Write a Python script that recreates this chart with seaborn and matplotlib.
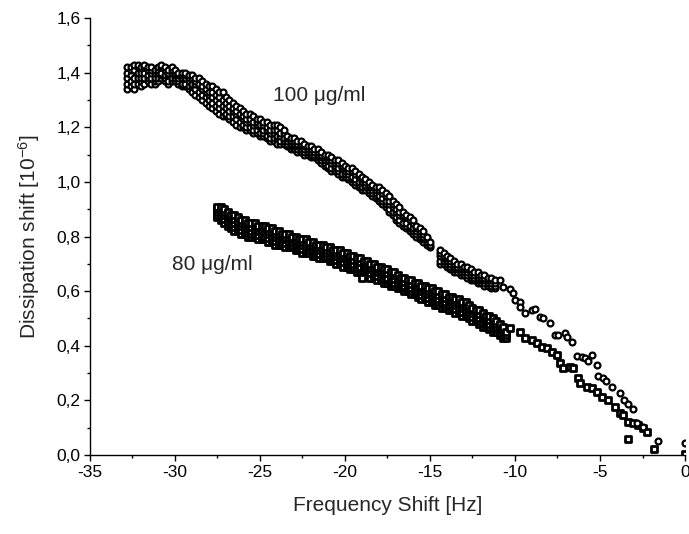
import matplotlib
matplotlib.use("Agg")
import matplotlib.pyplot as plt
import seaborn as sns
import pandas as pd
from matplotlib.ticker import MultipleLocator, FuncFormatter

# ---------------- data ----------------
# 100 ug/ml : rows of (frequency shift, [dissipation values seen at that frequency])
freq_100_rows = [
    -32.8, -32.6, -32.4, -32.2, -32.0, -31.8, -31.6, -31.4, -31.2, -31.0,
    -30.8, -30.6, -30.4, -30.2, -30.0, -29.8, -29.6, -29.4, -29.2, -29.0,
    -28.8, -28.6, -28.4, -28.2, -28.0, -27.8, -27.6, -27.4, -27.2, -27.0,
    -26.8, -26.6, -26.4, -26.2, -26.0, -25.8, -25.6, -25.4, -25.2, -25.0,
    -24.8, -24.6, -24.4, -24.2, -24.0, -23.8, -23.6, -23.4, -23.2, -23.0,
    -22.8, -22.6, -22.4, -22.2, -22.0, -21.8, -21.6, -21.4, -21.2, -21.0,
    -20.8, -20.6, -20.4, -20.2, -20.0, -19.8, -19.6, -19.4, -19.2, -19.0,
    -18.8, -18.6, -18.4, -18.2, -18.0, -17.8, -17.6, -17.4, -17.2, -17.0,
    -16.8, -16.6, -16.4, -16.2, -16.0, -15.8, -15.6, -15.4, -15.2, -15.0,
    -14.4, -14.2, -14.0, -13.8, -13.6, -13.4, -13.2, -13.0, -12.8, -12.6,
    -12.4, -12.2, -12.0, -11.8, -11.6, -11.4, -11.2,
]
diss_100_rows = [
    [1.34, 1.36, 1.38, 1.40, 1.42], [1.35, 1.37, 1.39, 1.41, 1.42], [1.34, 1.36, 1.38, 1.41, 1.43],
    [1.36, 1.38, 1.40, 1.42, 1.43], [1.35, 1.37, 1.38, 1.40, 1.42], [1.36, 1.38, 1.40, 1.42, 1.43],
    [1.37, 1.38, 1.39, 1.41, 1.42], [1.36, 1.38, 1.40, 1.41, 1.42], [1.36, 1.37, 1.38, 1.40, 1.41],
    [1.37, 1.38, 1.40, 1.41, 1.42], [1.38, 1.39, 1.40, 1.42, 1.43], [1.37, 1.38, 1.39, 1.41, 1.42],
    [1.36, 1.37, 1.39, 1.40, 1.41], [1.37, 1.38, 1.40, 1.41, 1.42], [1.37, 1.38, 1.39, 1.40, 1.41],
    [1.36, 1.37, 1.38, 1.39, 1.40], [1.35, 1.36, 1.38, 1.39, 1.40], [1.35, 1.36, 1.38, 1.39, 1.40],
    [1.34, 1.35, 1.37, 1.38, 1.39], [1.33, 1.35, 1.36, 1.38, 1.39], [1.32, 1.34, 1.36, 1.37, 1.38],
    [1.31, 1.33, 1.35, 1.36, 1.38], [1.30, 1.32, 1.34, 1.35, 1.37], [1.29, 1.31, 1.33, 1.34, 1.36],
    [1.28, 1.30, 1.32, 1.33, 1.35], [1.27, 1.29, 1.31, 1.33, 1.35], [1.26, 1.28, 1.30, 1.32, 1.34],
    [1.25, 1.27, 1.29, 1.31, 1.33], [1.24, 1.26, 1.28, 1.30, 1.33], [1.24, 1.25, 1.27, 1.29, 1.31],
    [1.23, 1.24, 1.26, 1.28, 1.30], [1.22, 1.24, 1.26, 1.27, 1.29], [1.21, 1.23, 1.25, 1.26, 1.28],
    [1.20, 1.22, 1.24, 1.25, 1.27], [1.20, 1.21, 1.23, 1.24, 1.26], [1.19, 1.20, 1.22, 1.23, 1.25],
    [1.19, 1.20, 1.22, 1.23, 1.25], [1.18, 1.19, 1.21, 1.22, 1.24], [1.18, 1.19, 1.21, 1.22, 1.23],
    [1.17, 1.18, 1.20, 1.21, 1.23], [1.17, 1.18, 1.19, 1.21, 1.22], [1.16, 1.17, 1.19, 1.20, 1.22],
    [1.15, 1.16, 1.18, 1.19, 1.21], [1.15, 1.16, 1.18, 1.19, 1.21], [1.14, 1.16, 1.17, 1.19, 1.21],
    [1.14, 1.15, 1.17, 1.18, 1.20], [1.14, 1.15, 1.16, 1.18, 1.19], [1.13, 1.14, 1.15, 1.16, 1.17],
    [1.12, 1.13, 1.14, 1.15, 1.16], [1.12, 1.13, 1.14, 1.15, 1.16], [1.11, 1.12, 1.13, 1.14, 1.15],
    [1.11, 1.12, 1.13, 1.14, 1.15], [1.10, 1.11, 1.12, 1.13, 1.14], [1.10, 1.11, 1.12, 1.13],
    [1.09, 1.10, 1.11, 1.12, 1.13], [1.09, 1.10, 1.11, 1.12], [1.08, 1.09, 1.10, 1.11, 1.12],
    [1.07, 1.08, 1.09, 1.10, 1.11], [1.06, 1.07, 1.08, 1.09, 1.10], [1.05, 1.06, 1.08, 1.09, 1.10],
    [1.04, 1.05, 1.07, 1.08, 1.09], [1.04, 1.05, 1.06, 1.07, 1.08], [1.03, 1.04, 1.05, 1.07, 1.08],
    [1.02, 1.03, 1.05, 1.06, 1.07], [1.02, 1.03, 1.04, 1.05, 1.06], [1.01, 1.02, 1.03, 1.04, 1.05],
    [1.00, 1.01, 1.02, 1.04, 1.05], [0.99, 1.00, 1.01, 1.03, 1.04], [0.98, 0.99, 1.00, 1.02, 1.03],
    [0.97, 0.98, 1.00, 1.01, 1.02], [0.97, 0.98, 0.99, 1.00, 1.01], [0.96, 0.97, 0.98, 0.99, 1.00],
    [0.95, 0.96, 0.97, 0.98, 0.99], [0.94, 0.95, 0.96, 0.97, 0.98], [0.93, 0.94, 0.95, 0.97, 0.98],
    [0.92, 0.93, 0.94, 0.96, 0.97], [0.91, 0.92, 0.93, 0.95, 0.96], [0.89, 0.90, 0.92, 0.93, 0.95],
    [0.88, 0.89, 0.91, 0.92, 0.93], [0.86, 0.87, 0.89, 0.90, 0.92], [0.85, 0.86, 0.88, 0.89, 0.91],
    [0.84, 0.85, 0.87, 0.88, 0.89], [0.83, 0.84, 0.85, 0.87, 0.88], [0.82, 0.83, 0.84, 0.86, 0.87],
    [0.81, 0.82, 0.83, 0.85, 0.86], [0.80, 0.81, 0.82, 0.83, 0.84], [0.79, 0.80, 0.81, 0.82, 0.83],
    [0.78, 0.79, 0.80, 0.81, 0.82], [0.77, 0.78, 0.79, 0.80], [0.76, 0.77, 0.78],
    [0.70, 0.71, 0.73, 0.74, 0.75], [0.70, 0.71, 0.72, 0.73, 0.74], [0.69, 0.70, 0.71, 0.72, 0.73],
    [0.68, 0.69, 0.70, 0.71, 0.72], [0.67, 0.68, 0.69, 0.70, 0.71], [0.67, 0.68, 0.69, 0.70],
    [0.66, 0.67, 0.68, 0.69, 0.70], [0.66, 0.67, 0.68, 0.69], [0.65, 0.66, 0.67, 0.68, 0.69],
    [0.64, 0.65, 0.66, 0.67, 0.68], [0.64, 0.65, 0.66, 0.67], [0.63, 0.64, 0.65, 0.66, 0.67],
    [0.63, 0.64, 0.65, 0.66], [0.62, 0.63, 0.64, 0.65, 0.66], [0.62, 0.63, 0.64, 0.65],
    [0.61, 0.62, 0.63, 0.64, 0.65], [0.61, 0.62, 0.63, 0.64],
]
# sparse tail of the 100 ug/ml series
freq_100_tail = [-10.88, -10.69, -10.29, -10.10, -10.00, -9.71, -9.71, -9.41, -9.02, -8.82,
                 -8.53, -8.34, -7.94, -7.65, -7.45, -7.06, -6.96, -6.66, -6.37, -6.08,
                 -5.88, -5.69, -5.49, -5.19, -5.10, -4.81, -4.65, -4.28, -3.82, -3.59,
                 -3.34, -3.04, -2.84, -2.45, -1.57, 0.0]
diss_100_tail = [0.641, 0.617, 0.607, 0.592, 0.568, 0.562, 0.543, 0.519, 0.531, 0.534,
                 0.507, 0.501, 0.482, 0.440, 0.440, 0.446, 0.433, 0.415, 0.363, 0.358,
                 0.354, 0.345, 0.366, 0.330, 0.290, 0.281, 0.272, 0.250, 0.228, 0.201,
                 0.186, 0.167, 0.116, 0.104, 0.051, 0.045]

# 80 ug/ml
freq_80_rows = [
    -27.5, -27.3, -27.1, -26.9, -26.7, -26.5, -26.3, -26.1, -25.9, -25.7,
    -25.5, -25.3, -25.1, -24.9, -24.7, -24.5, -24.3, -24.1, -23.9, -23.7,
    -23.5, -23.3, -23.1, -22.9, -22.7, -22.5, -22.3, -22.1, -21.9, -21.7,
    -21.5, -21.3, -21.1, -20.9, -20.7, -20.5, -20.3, -20.1, -19.9, -19.7,
    -19.5, -19.3, -19.1, -18.9, -18.7, -18.5, -18.3, -18.1, -17.9, -17.7,
    -17.5, -17.3, -17.1, -16.9, -16.7, -16.5, -16.3, -16.1, -15.9, -15.7,
    -15.5, -15.3, -15.1, -14.9, -14.7, -14.5, -14.3, -14.1, -13.9, -13.7,
    -13.5, -13.3, -13.1, -12.9, -12.7, -12.5, -12.3, -12.1, -11.9, -11.7,
    -11.5, -11.3, -11.1, -10.9, -10.7, -10.5,
]
diss_80_rows = [
    [0.87, 0.88, 0.89, 0.90, 0.91], [0.86, 0.87, 0.88, 0.895, 0.91], [0.85, 0.865, 0.88, 0.89, 0.90],
    [0.84, 0.855, 0.87, 0.88, 0.89], [0.83, 0.845, 0.86, 0.87, 0.88], [0.82, 0.835, 0.85, 0.865, 0.88],
    [0.82, 0.83, 0.84, 0.855, 0.87], [0.81, 0.825, 0.84, 0.85, 0.86], [0.81, 0.82, 0.83, 0.845, 0.86],
    [0.80, 0.815, 0.83, 0.84, 0.85], [0.80, 0.81, 0.82, 0.835, 0.85], [0.80, 0.81, 0.825, 0.84, 0.85],
    [0.79, 0.805, 0.82, 0.83, 0.84], [0.79, 0.80, 0.81, 0.825, 0.84], [0.79, 0.80, 0.815, 0.83, 0.84],
    [0.78, 0.795, 0.81, 0.82, 0.83], [0.78, 0.79, 0.80, 0.815, 0.83], [0.77, 0.785, 0.80, 0.81, 0.82],
    [0.77, 0.78, 0.79, 0.805, 0.82], [0.77, 0.78, 0.79, 0.80, 0.81], [0.76, 0.775, 0.79, 0.80, 0.81],
    [0.76, 0.77, 0.78, 0.795, 0.81], [0.76, 0.77, 0.78, 0.79, 0.80], [0.75, 0.76, 0.77, 0.785, 0.80],
    [0.75, 0.76, 0.77, 0.78, 0.79], [0.74, 0.755, 0.77, 0.78, 0.79], [0.74, 0.75, 0.76, 0.775, 0.79],
    [0.74, 0.75, 0.76, 0.77, 0.78], [0.73, 0.74, 0.75, 0.765, 0.78], [0.73, 0.74, 0.75, 0.76, 0.77],
    [0.72, 0.735, 0.75, 0.76, 0.77], [0.72, 0.73, 0.74, 0.755, 0.77], [0.72, 0.73, 0.74, 0.75, 0.76],
    [0.71, 0.72, 0.73, 0.745, 0.76], [0.71, 0.72, 0.73, 0.74, 0.75], [0.70, 0.715, 0.73, 0.74, 0.75],
    [0.70, 0.71, 0.72, 0.735, 0.75], [0.69, 0.705, 0.72, 0.73, 0.74], [0.69, 0.70, 0.71, 0.725, 0.74],
    [0.68, 0.695, 0.71, 0.72, 0.73], [0.68, 0.69, 0.70, 0.715, 0.73], [0.67, 0.685, 0.70, 0.71, 0.72],
    [0.67, 0.68, 0.69, 0.705, 0.72], [0.66, 0.675, 0.69, 0.70, 0.71], [0.66, 0.67, 0.68, 0.695, 0.71],
    [0.65, 0.665, 0.68, 0.69, 0.70], [0.65, 0.66, 0.67, 0.685, 0.70], [0.64, 0.655, 0.67, 0.68, 0.69],
    [0.64, 0.65, 0.66, 0.675, 0.69], [0.63, 0.645, 0.66, 0.67, 0.68], [0.63, 0.64, 0.65, 0.665, 0.68],
    [0.62, 0.63, 0.64, 0.655, 0.67], [0.62, 0.63, 0.645, 0.66, 0.67], [0.61, 0.62, 0.63, 0.645, 0.66],
    [0.61, 0.62, 0.63, 0.64, 0.65], [0.60, 0.61, 0.62, 0.635, 0.65], [0.60, 0.61, 0.62, 0.63, 0.64],
    [0.59, 0.60, 0.61, 0.625, 0.64], [0.59, 0.60, 0.61, 0.62, 0.63], [0.58, 0.59, 0.60, 0.615, 0.63],
    [0.57, 0.585, 0.60, 0.61, 0.62], [0.57, 0.58, 0.59, 0.605, 0.62], [0.56, 0.575, 0.59, 0.60, 0.61],
    [0.56, 0.57, 0.58, 0.595, 0.61], [0.55, 0.565, 0.58, 0.59, 0.60], [0.55, 0.56, 0.57, 0.585, 0.60],
    [0.54, 0.555, 0.57, 0.58, 0.59], [0.54, 0.55, 0.56, 0.575, 0.59], [0.53, 0.545, 0.56, 0.57, 0.58],
    [0.53, 0.54, 0.55, 0.565, 0.58], [0.52, 0.535, 0.55, 0.56, 0.57], [0.52, 0.53, 0.54, 0.555, 0.57],
    [0.51, 0.525, 0.54, 0.55, 0.56], [0.51, 0.52, 0.53, 0.545, 0.56], [0.50, 0.51, 0.52, 0.535, 0.55],
    [0.49, 0.505, 0.52, 0.53, 0.54], [0.49, 0.50, 0.51, 0.52, 0.53], [0.48, 0.49, 0.50, 0.515, 0.53],
    [0.47, 0.485, 0.50, 0.51, 0.52], [0.47, 0.48, 0.49, 0.50, 0.51], [0.46, 0.47, 0.48, 0.495, 0.51],
    [0.45, 0.465, 0.48, 0.49, 0.50], [0.45, 0.46, 0.47, 0.48, 0.49], [0.44, 0.45, 0.46, 0.47, 0.48],
    [0.43, 0.44, 0.45, 0.46, 0.47], [0.43, 0.44, 0.45],
]
freq_80_tail = [-19.0, -10.29, -9.71, -9.41, -9.02, -8.72, -8.43, -8.14, -7.84, -7.55,
                -7.35, -7.16, -6.76, -6.57, -6.28, -6.18, -5.78, -5.49, -5.19, -4.90,
                -4.51, -4.12, -3.82, -3.63, -3.34, -3.04, -2.75, -2.45, -2.25, -3.34,
                -1.85, 0.0]
diss_80_tail = [0.647, 0.465, 0.451, 0.429, 0.421, 0.410, 0.397, 0.392, 0.378, 0.366,
                0.337, 0.319, 0.323, 0.318, 0.281, 0.263, 0.250, 0.244, 0.232, 0.214,
                0.201, 0.177, 0.153, 0.147, 0.122, 0.116, 0.110, 0.098, 0.085, 0.058,
                0.023, 0.003]

x_ticks = [-35, -30, -25, -20, -15, -10, -5, 0]
y_ticks = [0.0, 0.2, 0.4, 0.6, 0.8, 1.0, 1.2, 1.4, 1.6]
label_100 = "100 \u03bcg/ml"
label_80 = "80 \u03bcg/ml"

# ---------------- build tables ----------------
def build(rows_x, rows_y, tail_x, tail_y):
    fx, fy = [], []
    for x, ys in zip(rows_x, rows_y):
        for y in ys:
            fx.append(x)
            fy.append(y)
    fx += tail_x
    fy += tail_y
    return pd.DataFrame({"freq": fx, "diss": fy})

df100 = build(freq_100_rows, diss_100_rows, freq_100_tail, diss_100_tail)
df80 = build(freq_80_rows, diss_80_rows, freq_80_tail, diss_80_tail)

# ---------------- style ----------------
sns.set_theme(style="ticks")
plt.rcParams["font.family"] = ["Liberation Sans", "DejaVu Sans"]
plt.rcParams["mathtext.fontset"] = "custom"
plt.rcParams["mathtext.rm"] = "Liberation Sans"
plt.rcParams["mathtext.it"] = "Liberation Sans:italic"

fig = plt.figure(figsize=(6.89, 5.34), dpi=100)
ax = fig.add_axes([0.1306, 0.148, 0.8636, 0.818])

sns.scatterplot(data=df80, x="freq", y="diss", marker="s", s=17,
                color="white", edgecolor="black", linewidth=2.0, ax=ax, zorder=3)
sns.scatterplot(data=df100, x="freq", y="diss", marker="o", s=18,
                color="white", edgecolor="black", linewidth=1.6, ax=ax, zorder=4)

ax.set_xlim(-35, 0)
ax.set_ylim(0, 1.6)
ax.set_xticks(x_ticks)
ax.set_yticks(y_ticks)
ax.xaxis.set_minor_locator(MultipleLocator(2.5))
ax.yaxis.set_minor_locator(MultipleLocator(0.1))
ax.yaxis.set_major_formatter(FuncFormatter(lambda v, p: f"{v:.1f}".replace(".", ",")))
ax.xaxis.set_major_formatter(FuncFormatter(lambda v, p: f"{v:.0f}"))

sns.despine(ax=ax)
for sp in ("left", "bottom"):
    ax.spines[sp].set_linewidth(1.0)
    ax.spines[sp].set_color("black")
ax.spines["bottom"].set_zorder(5)
ax.tick_params(axis="both", which="major", direction="out", length=4, width=1.0,
               labelsize=12.5, colors="black", pad=3)
ax.tick_params(axis="both", which="minor", direction="out", length=2.5, width=1.0, colors="black")

ax.set_xlabel("Frequency Shift [Hz]", fontsize=15, labelpad=12)
ax.set_ylabel(r"Dissipation shift [10$^{\mathregular{-6}}$]", fontsize=15, labelpad=10)

ax.text(-24.25, 1.315, label_100, fontsize=15, va="center", ha="left")
ax.text(-30.15, 0.696, label_80, fontsize=15, va="center", ha="left")

fig.savefig("out.png", dpi=100)
